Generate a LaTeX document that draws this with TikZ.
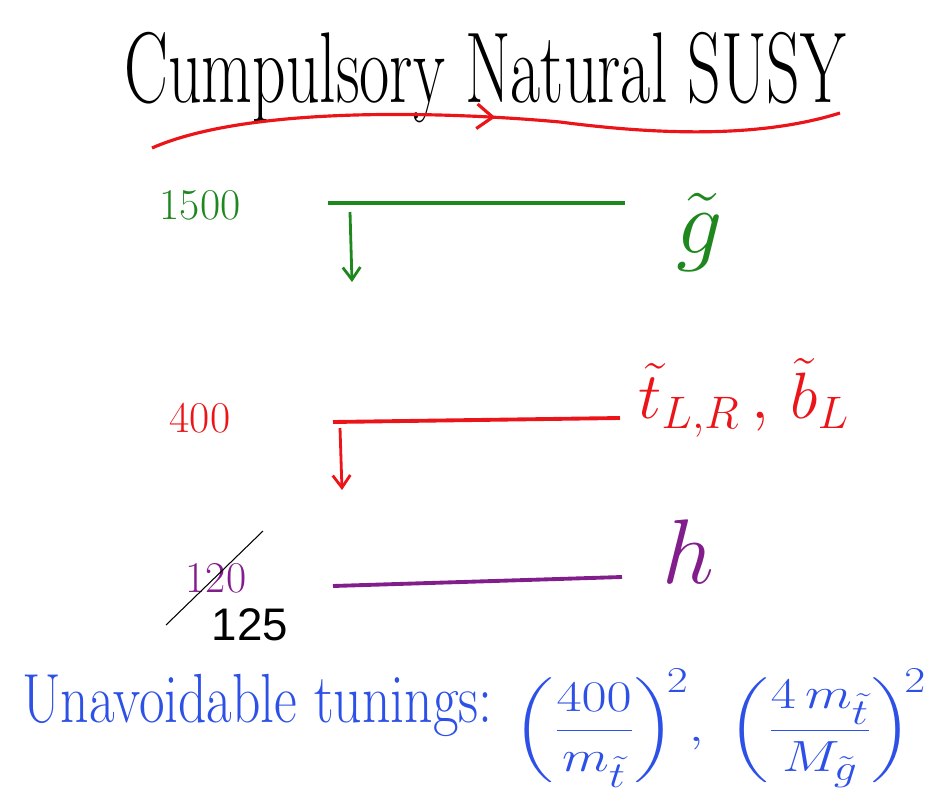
\documentclass[tikz,border=0pt]{standalone}
\usepackage{fontspec}
\usepackage{amsmath}
\usetikzlibrary{arrows.meta,decorations.markings}
\newfontfamily\arialfont{Liberation Sans}
\definecolor{hgreen}{RGB}{30,135,30}
\definecolor{hred}{RGB}{235,20,25}
\definecolor{hpurple}{RGB}{130,30,140}
\definecolor{hblue}{RGB}{45,80,230}
\tikzset{
  level/.style={line width=2.2pt},
  dropline/.style={line width=1.6pt,-{Straight Barb[length=7pt,width=10pt]}},
  masslbl/.style={inner sep=0pt,font=\fontsize{25}{30}\selectfont},
  partlbl/.style={inner sep=0pt,font=\fontsize{24}{28}\selectfont},
}
\begin{document}
\begin{tikzpicture}[x=0.02cm,y=-0.02cm]
\useasboundingbox (0,0) rectangle (933,808);
% title
\node[inner sep=0pt,xscale=0.72,yscale=1.1,font=\fontsize{52}{60}\selectfont] (title) at (485,78) {Cumpulsory Natural SUSY};
\draw[hred,line width=1.8pt,
  decoration={markings,mark=at position 0.5 with {\arrow{Straight Barb[length=9pt,width=14pt]}}},postaction={decorate}]
  (152,148) .. controls (250,105) and (450,112) .. (560,122) .. controls (660,135) and (760,138) .. (840,113);
% gluino level
\node[masslbl,text=hgreen] (m1500) at (200,205) {1500};
\coordinate (g1) at (328,203);
\coordinate (g2) at (625,203);
\draw[level,hgreen] (g1) -- (g2);
\coordinate (ga) at (350,212);
\coordinate (gb) at (352,282);
\draw[dropline,hgreen] (ga) -- (gb);
\node[partlbl,scale=2.1,text=hgreen] (gl) at (700,232) {$\tilde{g}$};
% stop level
\node[masslbl,text=hred] (m400) at (200,418) {400};
\coordinate (s1) at (333,422);
\coordinate (s2) at (620,418);
\draw[level,hred] (s1) -- (s2);
\coordinate (sa) at (340,428);
\coordinate (sb) at (342,490);
\draw[dropline,hred] (sa) -- (sb);
\node[partlbl,scale=1.5,text=hred,anchor=west] (st) at (638,398) {$\tilde{t}_{L,R}\,,\,\tilde{b}_{L}$};
% higgs level
\node[masslbl,text=hpurple] (m120) at (216,578) {120};
\coordinate (c1) at (166,625);
\coordinate (c2) at (263,531);
\draw[black,line width=0.6pt] (c1) -- (c2);
\node[inner sep=0pt,font=\arialfont\fontsize{26}{30}\selectfont] (m125) at (250,625) {125};
\coordinate (h1) at (333,586);
\coordinate (h2) at (622,577);
\draw[level,hpurple] (h1) -- (h2);
\node[partlbl,scale=2.1,text=hpurple] (hl) at (688,552) {$h$};
% bottom
\node[inner sep=0pt,anchor=west,xscale=0.88,yscale=1.1,text=hblue,font=\fontsize{36}{44}\selectfont] (unav) at (22,705) {Unavoidable tunings:};
\node[inner sep=0pt,xscale=1.25,text=hblue,font=\fontsize{28}{32}\selectfont] (form) at (720,728)
  {$\displaystyle\left(\frac{400}{m_{\tilde t}}\right)^{\!2}\!,\;\left(\frac{4\,m_{\tilde t}}{M_{\tilde g}}\right)^{\!2}$};
\end{tikzpicture}
\end{document}
